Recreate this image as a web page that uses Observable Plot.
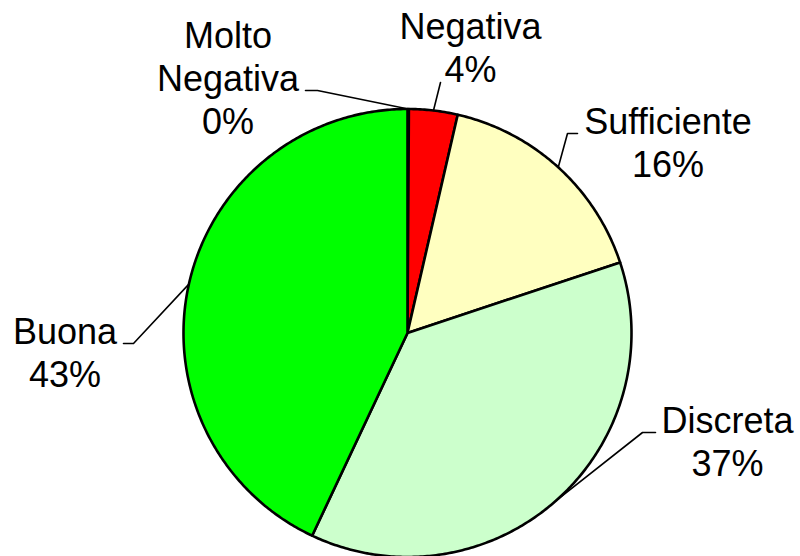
<!DOCTYPE html>
<html>
<head>
<meta charset="utf-8">
<script src="https://cdn.jsdelivr.net/npm/d3@7"></script>
<script src="https://cdn.jsdelivr.net/npm/@observablehq/plot@0.6"></script>
<style>
  html, body { margin: 0; padding: 0; background: #fff; }
  #chart { width: 800px; height: 556px; }
</style>
</head>
<body>
<div id="chart"></div>
<script>
// ---- data ----
const categories = ["Molto Negativa", "Negativa", "Sufficiente", "Discreta", "Buona"];
const labelNames = ["Molto\nNegativa", "Negativa", "Sufficiente", "Discreta", "Buona"];
const values = [0.1, 3.5, 16.3, 37.1, 43.0];
const sliceColors = ["#800000", "#FF0000", "#FFFFC0", "#CCFFCC", "#00FF00"];

// ---- layout (pixels) ----
const W = 800, H = 556;
const cx = 407, cy = 332.5, R = 224;
const fontSize = 36, lineGap = 43;
// label anchor: text center x, first baseline y, leader elbow & end
const labelLayout = {
  "Molto Negativa": {tx: 227.5, by: 47, elbow: [317, 90], end: [305, 90]},
  "Negativa":       {tx: 470,   by: 38, elbow: [440, 82], end: [440, 82]},
  "Sufficiente":    {tx: 667.5, by: 133, elbow: [567, 133], end: [577, 133]},
  "Discreta":       {tx: 727,   by: 432, elbow: [642, 432], end: [655, 432]},
  "Buona":          {tx: 64.5,  by: 343, elbow: [133, 343], end: [123, 343]}
};

// ---- derived geometry ----
const total = d3.sum(values);
const arcs = d3.pie().sort(null).startAngle(0).endAngle(2 * Math.PI)(values);
const pt = (a, r) => [cx + r * Math.sin(a), cy - r * Math.cos(a)];

const slicePts = [];
arcs.forEach((a, i) => {
  const name = categories[i];
  slicePts.push({name, x: cx, y: cy});
  const n = Math.max(2, Math.ceil((a.endAngle - a.startAngle) / 0.01));
  for (let k = 0; k <= n; k++) {
    const ang = a.startAngle + (a.endAngle - a.startAngle) * k / n;
    const [x, y] = pt(ang, R);
    slicePts.push({name, x, y});
  }
});

const leaderPts = [];
const labelRows = [];
arcs.forEach((a, i) => {
  const name = categories[i];
  const L = labelLayout[name];
  const mid = (a.startAngle + a.endAngle) / 2;
  const [sx, sy] = pt(mid, R);
  leaderPts.push({name, x: sx, y: sy});
  leaderPts.push({name, x: L.elbow[0], y: L.elbow[1]});
  leaderPts.push({name, x: L.end[0], y: L.end[1]});
  const pct = Math.round(values[i] / total * 100) + "%";
  const lines = labelNames[i].split("\n").concat([pct]);
  lines.forEach((t, j) => labelRows.push({text: t, x: L.tx, y: L.by + j * lineGap}));
});

const chart = Plot.plot({
  width: W,
  height: H,
  margin: 0,
  style: {fontFamily: "'Liberation Sans', Arial, sans-serif", background: "#fff"},
  x: {domain: [0, W], range: [0, W], axis: null},
  y: {domain: [0, H], range: [0, H], axis: null},
  color: {domain: categories, range: sliceColors},
  marks: [
    Plot.line(slicePts, {
      x: "x", y: "y", z: "name", fill: "name",
      stroke: "#000", strokeWidth: 2.6, strokeLinejoin: "round",
      curve: "linear-closed"
    }),
    Plot.line(leaderPts, {
      x: "x", y: "y", z: "name", stroke: "#000", strokeWidth: 1.6, fill: "none"
    }),
    Plot.text(labelRows, {
      x: "x", y: "y", text: "text", textAnchor: "middle",
      fontSize: fontSize, fill: "#000", lineAnchor: "bottom", dy: 0
    })
  ]
});
document.getElementById("chart").appendChild(chart);
</script>
</body>
</html>
